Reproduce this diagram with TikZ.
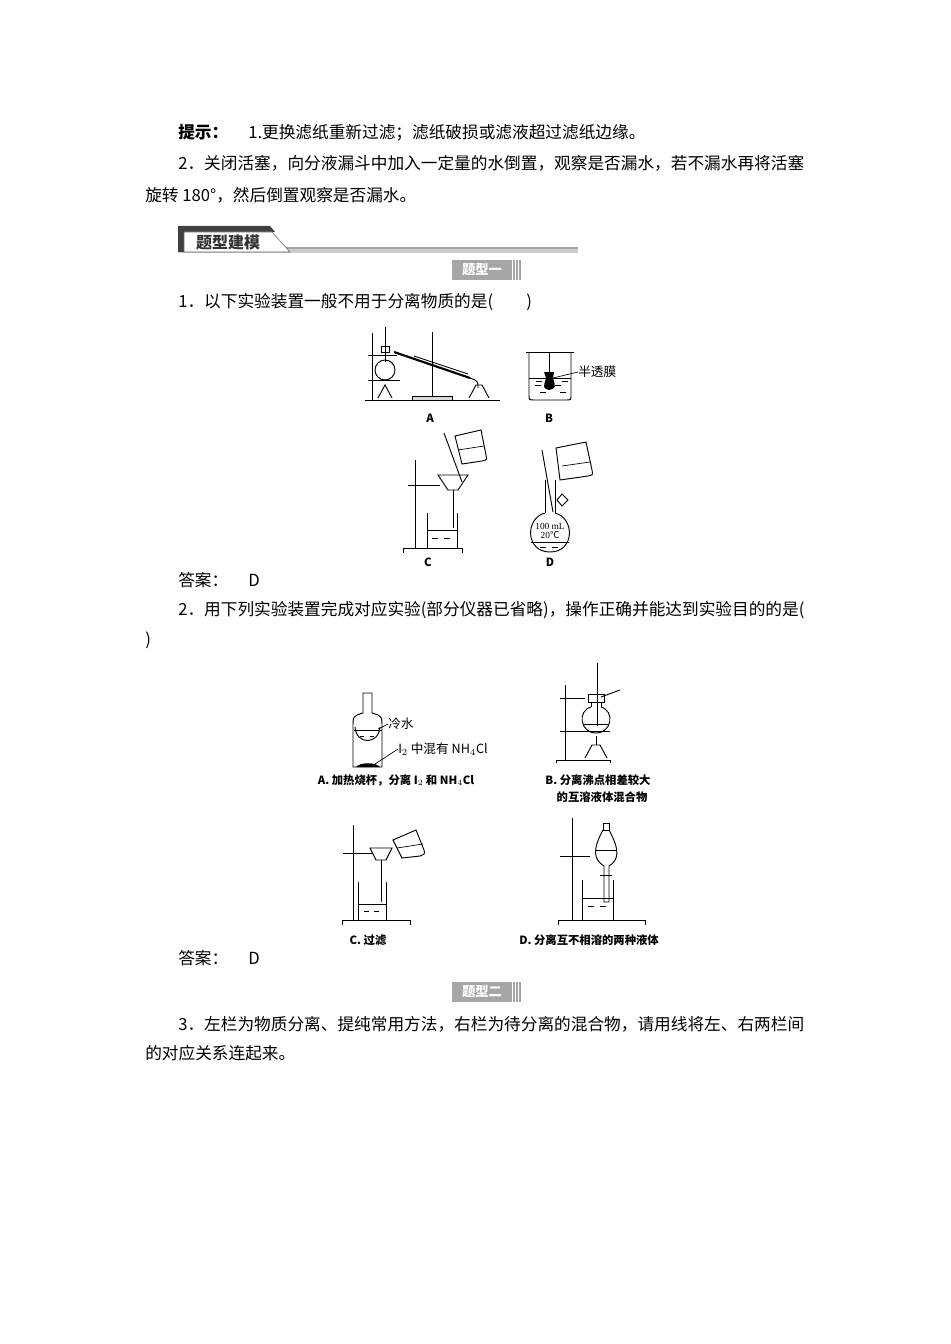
\documentclass[tikz,border=0pt]{standalone}
\usepackage{fontspec}
\setmainfont{Liberation Serif}
\newfontfamily\cjk{Noto Sans CJK SC}
\begin{document}
\begin{tikzpicture}[x=0.75pt,y=-0.75pt,
  txt/.style={anchor=west,inner sep=0,font=\cjk\fontsize{12.5}{14}\selectfont},
  lab/.style={inner sep=0,font=\cjk\bfseries\fontsize{8.5}{10}\selectfont},
  app/.style={line width=0.7pt},
  liq/.style={line width=0.5pt}]
\useasboundingbox (0,0) rectangle (950,1344);
\fill[white] (0,0) rectangle (950,1344);
% text
\node[txt] (t1) at (178,133) {\textbf{提示：}\hspace{1.2em}1.更换滤纸重新过滤；滤纸破损或滤液超过滤纸边缘。};
\node[txt] (t2) at (178,163) {2．关闭活塞，向分液漏斗中加入一定量的水倒置，观察是否漏水，若不漏水再将活塞};
\node[txt] (t3) at (145,195) {旋转 180°，然后倒置观察是否漏水。};
% banner
\fill[gray!40] (178,249) rectangle (578,253);
\fill[gray!70] (178,247) rectangle (578,249);
\fill[black!75] (178,226) -- (270,226) -- (275,232) -- (178,232) -- cycle;
\fill[black!75] (178,226) rectangle (184,252);
\draw[black!60,fill=white] (184,232) -- (272,232) -- (290,252) -- (184,252) -- cycle;
\node[inner sep=0,font=\cjk\bfseries\fontsize{12}{13}\selectfont,text=black!80] (ban) at (228,242) {题型建模};
\fill[gray!70] (452,260) rectangle (512,280);
\node[inner sep=0,font=\cjk\bfseries\fontsize{10}{11}\selectfont,text=white] (q1) at (482,270) {题型一};
\foreach \x in {514,517,520} \draw[gray!70,line width=0.8pt] (\x,260) -- (\x,280);
\node[txt] (t4) at (178,302) {1．以下实验装置一般不用于分离物质的是(\hspace{2em})};
% ---- Fig 1A
\draw[app] (365,400) -- (500,400);
\draw[app] (372,333) -- (372,400);
\draw[app] (368,355) -- (397,355); \draw[app] (368,380) -- (400,380);
\draw[app] (385,327) -- (385,362);
\draw[app] (381,346) rectangle (389,352);
\draw[app] (385,370) circle (10);
\draw[app] (380,380) -- (390,380);
\draw[app] (378,398) -- (385,385) -- (392,398);
\draw[app,line width=1.6pt] (394,352) -- (470,378);
\draw[app] (414,356) -- (468,374);
\draw[app] (432,332) -- (432,396);
\fill[gray!30,draw=black] (412,396) rectangle (452,400);
\draw[app] (470,378) .. controls (478,381) .. (478,388);
\draw[app] (469,398) -- (476,385) -- (482,385) -- (489,398);
% B
\draw[app] (526,352) -- (574,352);
\draw[app] (529,352) -- (529,395) .. controls (529,400) .. (535,400) -- (566,400) .. controls (571,400) .. (571,395) -- (571,352);
\draw[app] (549,352) -- (549,372);
\draw[liq] (529,378) -- (571,378);
\foreach \x/\y in {535/385,555/385,540/392,560/392,536/381,562/381} \draw[liq] (\x,\y) -- (\x+6,\y);
\fill (544,372) -- (554,372) -- (553,378) .. controls (556,388) .. (549,390) .. controls (543,388) .. (546,378) -- cycle;
\draw[liq] (553,378) -- (578,372);
\node[inner sep=0,anchor=west,font=\cjk\fontsize{9.5}{10}\selectfont] (bm) at (578,372) {半透膜};
\node[lab] (la) at (430,418) {A};
\node[lab] (lb) at (549,418) {B};
% C
\draw[app] (415,460) -- (415,548);
\draw[app] (403,553) -- (403,548) -- (462,548) -- (462,553);
\draw[app] (408,485) -- (440,485);
\draw[app] (438,475) -- (468,475) -- (458,490) -- (448,490) -- cycle;
\draw[app] (453,490) -- (453,528);
\draw[app] (427,513) -- (427,548) -- (457,548) -- (457,513);
\draw[liq] (427,530) -- (457,530);
\foreach \x in {432,444} \draw[liq] (\x,538) -- (\x+6,538);
\draw[app] (444,433) -- (462,482);
\draw[app] (455,436) -- (481,430) -- (486,455) .. controls (487,460) .. (482,461) -- (462,464) -- cycle;
\draw[liq] (458,450) -- (484,446);
\node[lab] (lc) at (428,562) {C};
% D
\draw[app] (545,480) -- (545,513);
\draw[app] (555,480) -- (555,513);
\draw[app] (545,513) .. controls (525,518) and (525,552) .. (550,552) .. controls (575,552) and (575,518) .. (555,513);
\draw[liq] (531,542) -- (569,542);
\foreach \x in {540,552} \draw[liq] (\x,547) -- (\x+6,547);
\draw[app] (542,450) -- (553,512);
\draw[app] (556,448) -- (586,442) -- (592,470) .. controls (593,475) .. (588,476) -- (560,480) -- cycle;
\draw[liq] (562,466) -- (590,462);
\draw[app] (557,500) -- (562,494) -- (568,500) -- (562,506) -- cycle;
\node[inner sep=0,font=\fontsize{7}{7}\selectfont] (dv) at (550,526) {100 mL};
\node[inner sep=0,font=\fontsize{7}{7}\selectfont] (dt) at (550,535) {20{\cjk ℃}};
\node[lab] (ld) at (550,562) {D};
\node[txt] (a1) at (178,580) {答案：\hspace{1.2em}D};
\node[txt] (t5) at (178,610) {2．用下列实验装置完成对应实验(部分仪器已省略)，操作正确并能达到实验目的的是(};
\node[txt] (t6) at (145,640) {)};
% ---- Fig 2A
\draw[app] (363,693) -- (363,713) .. controls (353,716) .. (353,728) -- (353,767) -- (382,767) -- (382,728) .. controls (382,716) .. (372,713) -- (372,693) -- cycle;
\draw[app] (355,727) .. controls (356,745) and (379,745) .. (380,727);
\draw[liq] (354,730) -- (382,730);
\draw[liq] (360,736) -- (364,736); \draw[liq] (370,736) -- (374,736);
\fill (356,767) .. controls (360,762) and (376,762) .. (380,767) -- cycle;
\draw[liq] (378,729) -- (388,724);
\node[inner sep=0,anchor=west,font=\cjk\fontsize{9.5}{10}\selectfont] (lw) at (388,724) {冷水};
\draw[liq] (375,764) -- (398,749);
\node[inner sep=0,anchor=west,font=\cjk\fontsize{9.5}{10}\selectfont] (lm) at (398,749) {I$_2$ 中混有 NH$_4$Cl};
\node[lab] (l2a) at (396,780) {A. 加热烧杯，分离 I$_2$ 和 NH$_4$Cl};
% 2B
\draw[app] (565,685) -- (565,760);
\draw[app] (556,763) -- (556,760) -- (610,760) -- (610,763);
\draw[app] (560,698) -- (585,698);
\draw[app] (560,731) -- (610,731);
\draw[app] (591,702) -- (591,707);
\draw[app] (601,702) -- (601,707);
\draw[app] (591,707) .. controls (577,711) and (580,733) .. (596,733) .. controls (612,733) and (615,711) .. (601,707);
\draw[app] (588,694) rectangle (604,702);
\draw[app] (597,663) -- (597,726);
\draw[app] (601,697) -- (620,690);
\draw[liq] (584,724) -- (608,724);
\draw[app] (585,758) -- (592,745) -- (600,745) -- (607,758);
\draw[app] (596,745) -- (596,736);
\node[lab] (l2b1) at (598,780) {B. 分离沸点相差较大};
\node[lab] (l2b2) at (602,797) {的互溶液体混合物};
% 2C
\draw[app] (353,825) -- (353,920);
\draw[app] (342,925) -- (342,920) -- (410,920) -- (410,925);
\draw[app] (343,853) -- (372,853);
\draw[app] (370,848) -- (392,848) -- (386,860) -- (376,860) -- cycle;
\draw[app] (381,860) -- (381,902);
\draw[app] (358,882) -- (358,920) -- (386,920) -- (386,882);
\draw[liq] (358,904) -- (386,904);
\draw[liq] (364,911) -- (369,911); \draw[liq] (374,911) -- (379,911);
\draw[app] (393,840) -- (416,830) -- (424,850) .. controls (425,854) .. (420,856) -- (402,858) -- cycle;
\draw[liq] (397,848) -- (423,844);
\node[lab] (l2c) at (368,940) {C. 过滤};
% 2D
\draw[app] (572,818) -- (572,920);
\draw[app] (558,925) -- (558,920) -- (645,920) -- (645,925);
\draw[app] (560,856) -- (590,856);
\draw[app] (603,823) rectangle (609,830);
\draw[app] (603,830) .. controls (592,850) and (594,860) .. (604,866) -- (604,902) -- (609,902) -- (609,866) .. controls (619,860) and (620,850) .. (609,830);
\draw[app] (600,875) -- (612,875);
\draw[liq] (595,850) -- (617,850);
\draw[app] (582,880) -- (582,920) -- (613,920) -- (613,880);
\draw[liq] (582,898) -- (613,898);
\foreach \x in {588,600} \draw[liq] (\x,906) -- (\x+6,906);
\node[lab] (l2d) at (589,940) {D. 分离互不相溶的两种液体};
\node[txt] (a2) at (178,958) {答案：\hspace{1.2em}D};
\fill[gray!70] (452,982) rectangle (512,1002);
\node[inner sep=0,font=\cjk\bfseries\fontsize{10}{11}\selectfont,text=white] (q2) at (482,992) {题型二};
\foreach \x in {514,517,520} \draw[gray!70,line width=0.8pt] (\x,982) -- (\x,1002);
\node[txt] (t7) at (178,1024) {3．左栏为物质分离、提纯常用方法，右栏为待分离的混合物，请用线将左、右两栏间};
\node[txt] (t8) at (145,1053) {的对应关系连起来。};
\end{tikzpicture}
\end{document}
